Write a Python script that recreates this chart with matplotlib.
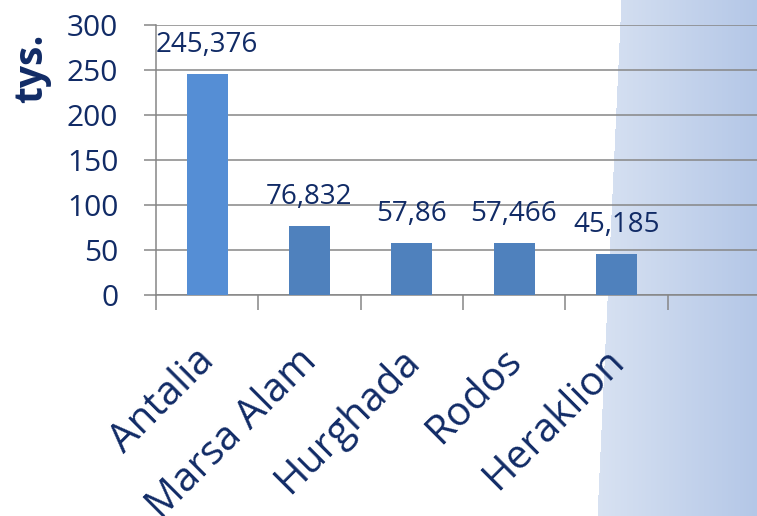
import numpy as np
import matplotlib
matplotlib.use("Agg")
import matplotlib.pyplot as plt
from matplotlib.transforms import ScaledTranslation

categories = ["Antalia", "Marsa Alam", "Hurghada", "Rodos", "Heraklion"]
values = [245.376, 76.832, 57.86, 57.466, 45.185]
value_labels = ["245,376", "76,832", "57,86", "57,466", "45,185"]
yticks = [0, 50, 100, 150, 200, 250, 300]
ylabel = "tys."

NAVY = "#112b66"
GRID = "#868686"
bar_colors = ["#558ED5", "#4F81BD", "#4F81BD", "#4F81BD", "#4F81BD"]

plt.rcParams["font.family"] = ["Open Sans", "DejaVu Sans"]

W, H = 757, 516
fig = plt.figure(figsize=(W / 100, H / 100), dpi=100)

# background: slanted light-blue gradient panel on the right
bg = fig.add_axes([0, 0, 1, 1], zorder=-10)
yy, xx = np.mgrid[0:H, 0:W]
bx = 621 - 24 * yy / H
c_left = np.array([0xD8, 0xE2, 0xF2]) / 255
c_right = np.array([0xB4, 0xC7, 0xE7]) / 255
t = np.clip((xx - 597) / (W - 597), 0, 1)[..., None]
grad = c_left * (1 - t) + c_right * t
img = np.where((xx >= bx)[..., None], grad, 1.0)
bg.imshow(img, aspect="auto", extent=[0, W, H, 0], interpolation="bilinear")
bg.set_axis_off()

left, right, bottom, top = 156, W, 295, 25
ax = fig.add_axes([left / W, 1 - bottom / H, (right - left) / W, (bottom - top) / H])
ax.patch.set_alpha(0)

slot = 102.3
x = np.arange(len(categories))
ax.bar(x, values, width=0.4, color=bar_colors, zorder=3)
ax.set_yticks(yticks)
ax.grid(axis="y", color=GRID, linewidth=1.1, zorder=0)
ax.set_axisbelow(True)

for s in ["top", "right"]:
    ax.spines[s].set_visible(False)
for s in ["left", "bottom"]:
    ax.spines[s].set_color(GRID)
    ax.spines[s].set_linewidth(1.1)

ax.tick_params(axis="y", length=8.6, width=1.1, color=GRID, pad=18.5,
               labelsize=21.5, labelcolor=NAVY)
ax.set_xticks(np.arange(-0.5, len(categories), 1.0), minor=True)
ax.tick_params(axis="x", which="minor", length=10.8, width=1.1, color=GRID)
ax.set_xticks(x)
ax.set_xticklabels(categories)
ax.tick_params(axis="x", which="major", length=0, pad=48.5, labelsize=29,
               labelcolor=NAVY)
offset = ScaledTranslation(9 / 100, 0, fig.dpi_scale_trans)
for lab in ax.get_xticklabels():
    lab.set_rotation(45)
    lab.set_rotation_mode("anchor")
    lab.set_ha("right")
    lab.set_va("baseline")
    lab.set_transform(lab.get_transform() + offset)

ax.set_xlim(-0.5, -0.5 + (right - left) / slot)
ax.set_ylim(0, 300)

for xi, v, lab in zip(x, values, value_labels):
    ax.annotate(lab, (xi, v), xytext=(0, 21), textcoords="offset points",
                ha="center", va="center", fontsize=20, color=NAVY, zorder=4)

fig.text(32 / W, 1 - 68 / H, ylabel, rotation=90, ha="center", va="center",
         fontsize=28, fontweight="bold", color=NAVY)

fig.savefig("out.png", dpi=100)
